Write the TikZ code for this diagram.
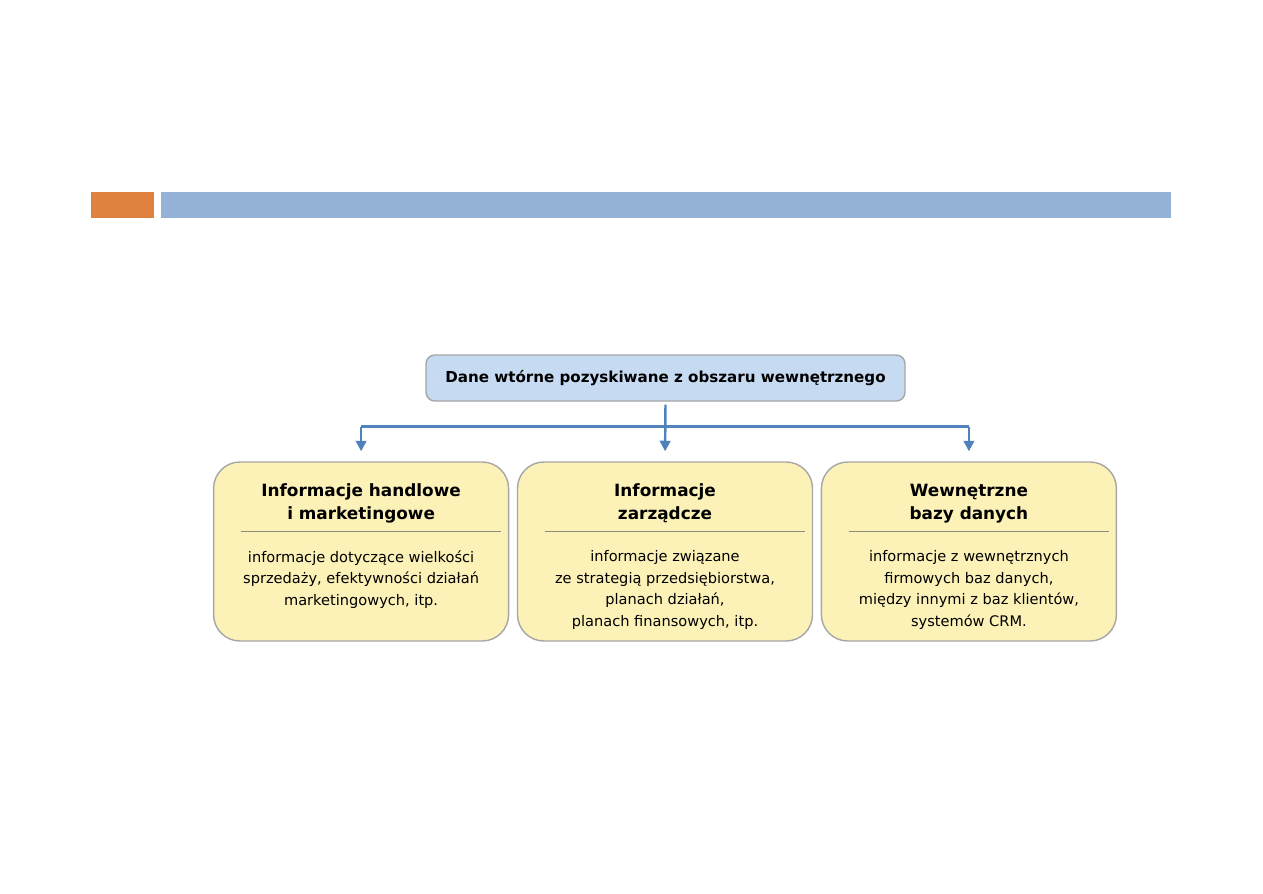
\documentclass[tikz,border=0pt]{standalone}
\usepackage{fontspec}
\setmainfont{DejaVu Sans}
\usetikzlibrary{arrows.meta,positioning,calc}
\definecolor{BarBlue}{HTML}{95B3D7}
\definecolor{BarOrange}{HTML}{E0823F}
\definecolor{HeadFill}{HTML}{C6DAF1}
\definecolor{BoxFill}{HTML}{FCF1B6}
\definecolor{BoxLine}{HTML}{A6A6A6}
\definecolor{RuleGray}{HTML}{8C8C7A}
\definecolor{LinkBlue}{HTML}{4F81BD}
\tikzset{
  HB/.style={rectangle,rounded corners=5pt,draw=BoxLine,fill=HeadFill,thick,
             minimum width=9.58cm,minimum height=0.92cm,inner sep=0pt,
             font=\bfseries\fontsize{8.6}{10}\selectfont},
  CB/.style={rectangle,rounded corners=15pt,draw=BoxLine,fill=BoxFill,thick,
             minimum width=5.9cm,minimum height=3.58cm,inner sep=0pt},
  CT/.style={align=center,inner sep=0pt,font=\bfseries\fontsize{9.6}{13}\selectfont},
  CD/.style={align=center,inner sep=0pt,font=\fontsize{8.3}{12.2}\selectfont},
  SL/.style={draw=RuleGray,line width=0.6pt},
  arr/.style={-{Triangle[length=6pt,width=6pt]},draw=LinkBlue,line width=1.4pt}
}
\begin{document}
\begin{tikzpicture}
  \useasboundingbox (0,0) rectangle (25.26,-17.86);
  % slide header bars
  \fill[BarOrange] (1.82,-3.84) rectangle (3.08,-4.36);
  \fill[BarBlue] (3.22,-3.84) rectangle (23.42,-4.36);

  \node[HB] (src) at (13.31,-7.56) {Dane wtórne pozyskiwane z obszaru wewnętrznego};

  \node[CB] (zarz) at (13.30,-11.03) {};
  \node[CB,left=0.15cm of zarz] (handl) {};
  \node[CB,right=0.15cm of zarz] (bazy) {};

  \node[CT,below=0.45cm of handl.north] (handlT) {Informacje handlowe\\i marketingowe};
  \node[CT,below=0.45cm of zarz.north] (zarzT) {Informacje\\zarządcze};
  \node[CT,below=0.45cm of bazy.north] (bazyT) {Wewnętrzne\\bazy danych};

  \foreach \b in {handl,zarz,bazy}
    \draw[SL] ($(\b.west |- \b.north)+(0.56,-1.4)$) -- ($(\b.east |- \b.north)+(-0.16,-1.4)$);

  \node[CD,below=1.78cm of handl.north] (handlD) {informacje dotyczące wielkości\\sprzedaży, efektywności działań\\marketingowych, itp.};
  \node[CD,below=1.78cm of zarz.north] (zarzD) {informacje związane\\ze strategią przedsiębiorstwa,\\planach działań,\\planach finansowych, itp.};
  \node[CD,below=1.78cm of bazy.north] (bazyD) {informacje z wewnętrznych\\firmowych baz danych,\\między innymi z baz klientów,\\systemów CRM.};

  % connectors
  \coordinate (bus) at ($(src.south)+(0,-0.5)$);
  \draw[LinkBlue,line width=1.4pt] (handl.north |- bus) -- (bazy.north |- bus);
  \draw[arr,shorten >=0.2cm] ($(src.south)+(0,-0.06)$) -- (zarz.north);
  \draw[arr,shorten >=0.2cm] (handl.north |- bus) -- (handl.north);
  \draw[arr,shorten >=0.2cm] (bazy.north |- bus) -- (bazy.north);
\end{tikzpicture}
\end{document}
